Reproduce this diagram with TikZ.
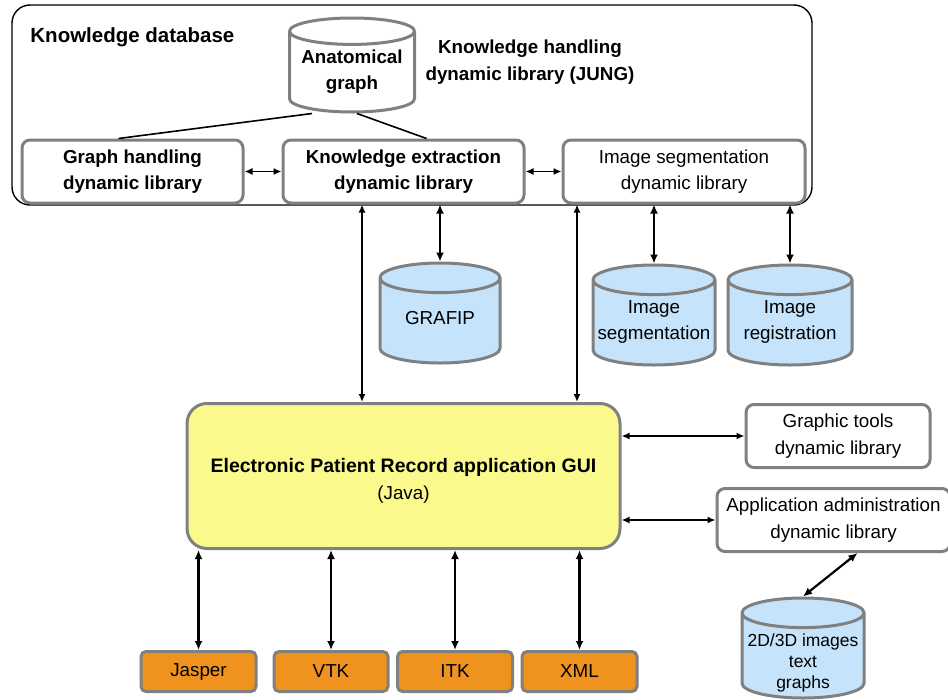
\documentclass[tikz,border=0pt]{standalone}
\usepackage{fontspec}
\setmainfont{Liberation Sans}
\usetikzlibrary{shapes.geometric,arrows.meta,positioning}
\definecolor{boxgray}{RGB}{128,128,128}
\definecolor{dbblue}{RGB}{197,227,250}
\definecolor{guiyellow}{RGB}{250,250,140}
\definecolor{liborange}{RGB}{240,146,30}
\newcommand{\libfont}{\fontsize{18.8}{26.5}\selectfont}

\begin{document}
\begin{tikzpicture}[x=1pt,y=-1pt,<->,>={Latex[length=9pt,width=8pt]},line width=2.2pt,font=\libfont]
\tikzstyle{lib}=[draw=boxgray,line width=3pt,fill=white,rounded corners=8pt,align=center,minimum height=63pt,inner sep=0pt]
\tikzstyle{db}=[cylinder,shape border rotate=90,aspect=0.37,draw=boxgray,line width=3pt,fill=dbblue,anchor=shape center,inner xsep=40pt,inner ysep=0pt,minimum height=100pt]
\tikzstyle{tool}=[draw=boxgray,line width=3pt,fill=liborange,rounded corners=5pt,minimum height=40pt]
\tikzstyle{slim}=[line width=1.6pt,>={Latex[length=8pt,width=7pt]}]
\useasboundingbox (0,0) rectangle (948,699);
\draw[-,line width=1.4pt,rounded corners=18pt] (12,5) rectangle (812,205);
\node[font=\fontsize{20.5}{26}\selectfont\bfseries,anchor=west] (kdb) at (26,37) {Knowledge database};
% databases
\node[db,minimum width=125pt,minimum height=94pt,fill=white,aspect=0.33] (anat) at (352,65) {};
\node[align=center,font=\libfont\bfseries] (anattext) at ([yshift=-6.5pt]anat.shape center) {Anatomical\\graph};
\node[align=center,font=\libfont\bfseries] (jung) at (530,62) {Knowledge handling\\dynamic library (JUNG)};
\node[lib,minimum width=221pt,font=\libfont\bfseries] (graph) at (132.5,171.5) {Graph handling\\dynamic library};
\node[lib,minimum width=241pt,font=\libfont\bfseries] (kext) at (403.5,171.5) {Knowledge extraction\\dynamic library};
\node[lib,minimum width=242pt] (iseg) at (684,171.5) {Image segmentation\\dynamic library};
\node[db,minimum width=120pt] (grafip) at (440,313) {};
\node (grafiptext) at ([yshift=-5pt]grafip.shape center) {GRAFIP};
\node[db,minimum width=122pt] (segdb) at (654,315) {};
\node[align=center] (segtext) at ([yshift=-7pt]segdb.shape center) {Image\\segmentation};
\node[db,minimum width=124pt] (regdb) at (790,315) {};
\node[align=center] (regtext) at ([yshift=-7pt]regdb.shape center) {Image\\registration};
% GUI and libraries
\node[lib,minimum width=433pt,minimum height=145pt,fill=guiyellow,rounded corners=20pt] (gui) at (403.5,476) {};
\node[align=center] (guitext) at ([yshift=-5pt]gui.center) {\fontsize{19.5}{26}\selectfont\bfseries Electronic Patient Record application GUI\\(Java)};
\node[lib,minimum width=184pt] (gtools) at (838,436) {Graphic tools\\dynamic library};
\node[lib,minimum width=233pt] (admin) at (833.5,520) {Application administration\\dynamic library};
\node[db,minimum width=122pt] (media) at (803,648) {};
\node[align=center,font=\fontsize{17.5}{21}\selectfont] (mediatext) at ([yshift=-15pt]media.shape center) {2D/3D images\\text\\graphs};
\node[tool,minimum width=115pt] (jasper) at (198.5,671.5) {Jasper};
\node[tool,minimum width=114pt] (vtk) at (331,671.5) {VTK};
\node[tool,minimum width=115pt] (itk) at (455,671.5) {ITK};
\node[tool,minimum width=115pt] (xml) at (579.5,671.5) {XML};
\path
([xshift=-40pt]anat.south) edge[-,line width=1.6pt] ([xshift=-14pt]graph.north)
([xshift=5pt]anat.south) edge[-,line width=1.6pt] ([xshift=23pt]kext.north)
(graph) edge[slim] (kext)
(kext) edge[slim] (iseg)
([xshift=-41.5pt]kext.south) edge[slim] ([xshift=-41.5pt]kext.south |- gui.north)
(kext.south -| grafip.north) edge (grafip.north)
([xshift=-107pt]iseg.south) edge[slim] ([xshift=-107pt]iseg.south |- gui.north)
(iseg.south -| segdb.north) edge (segdb.north)
(iseg.south -| regdb.north) edge (regdb.north)
(gtools.west -| gui.east) edge[slim] (gtools.west)
(admin.west -| gui.east) edge[slim] (admin.west)
([xshift=24pt]admin.south) edge (media.north)
(jasper.north |- gui.south) edge (jasper.north)
(vtk.north |- gui.south) edge (vtk.north)
(itk.north |- gui.south) edge (itk.north)
(xml.north |- gui.south) edge (xml.north);
\end{tikzpicture}
\end{document}
